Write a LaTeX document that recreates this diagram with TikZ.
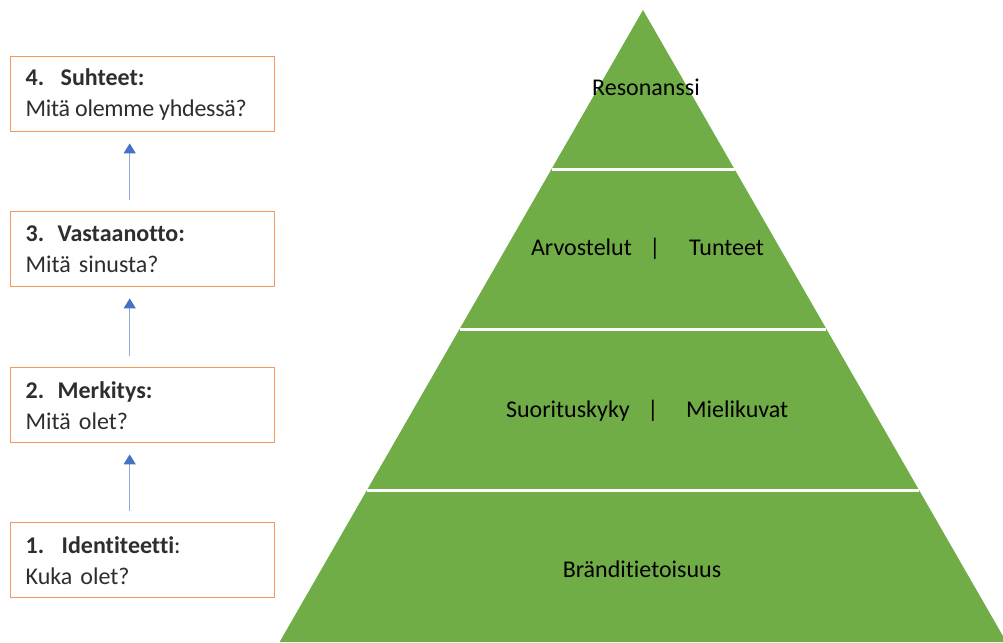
\documentclass[tikz,border=0pt]{standalone}
\usepackage{fontspec}
\setmainfont{Carlito}[Ligatures=NoCommon]
\usetikzlibrary{arrows.meta}
\definecolor{pyrgreen}{HTML}{70AD47}
\definecolor{boxorange}{HTML}{F29A5C}
\definecolor{arrblue}{HTML}{4472C4}
\definecolor{arrline}{HTML}{8EA9DB}
\definecolor{boxtext}{HTML}{2E2E2E}
\tikzset{
  stagebox/.style={draw=boxorange, line width=1.4pt, fill=white,
    minimum width=264pt, minimum height=75pt, inner xsep=14pt, inner ysep=0pt,
    text width=234pt, align=left, text=boxtext,
    font=\fontsize{24}{31}\selectfont, anchor=north west},
  uparrow/.style={draw=arrline, line width=1.3pt,
    -{Triangle[width=12pt,length=10pt,color=arrblue]},
    shorten <=11pt, shorten >=11pt},
  level/.style={inner sep=0pt, text=black, font=\fontsize{24}{29}\selectfont},
  divider/.style={draw=white, line width=3pt}
}
\newcommand{\stagenum}[2]{\makebox[#1][l]{#2}}
\newcommand{\tightline}[1]{{\addfontfeature{LetterSpace=-1.1}#1}}
\newcommand{\gap}{\hspace{5pt}}
\begin{document}
\begin{tikzpicture}[x=1pt,y=-1pt]
\useasboundingbox (0,0) rectangle (1003,642);

% pyramid body
\coordinate (apex) at (643,10);
\coordinate (bl) at (279.6,642);
\coordinate (br) at (1006.4,642);
\begin{scope}
  \clip (0,0) rectangle (1003,642);
  \fill[pyrgreen] (apex) -- (br) -- (bl) -- cycle;
\end{scope}
% white separators between levels (x = 643 -/+ 0.575*(y-10))
\draw[divider] (551.5,169) -- (734.5,169);
\draw[divider] (459.6,329) -- (826.4,329);
\draw[divider] (367.1,490) -- (918.9,490);

% level labels
\node[level, anchor=base] (res) at (646,95) {Resonanssi};
\node[level, anchor=base east] (arv) at (632,255) {Arvostelut};
\node[level, anchor=base] (sep1) at (655,255) {|};
\node[level, anchor=base west] (tun) at (689,255) {Tunteet};
\node[level, anchor=base east] (suo) at (630,417) {Suorituskyky};
\node[level, anchor=base] (sep2) at (653,417) {|};
\node[level, anchor=base west] (mie) at (686,417) {Mielikuvat};
\node[level, anchor=base] (bra) at (642,577) {Bränditietoisuus};

% stage boxes
\node[stagebox] (b4) at (10,56)
  {{\bfseries\stagenum{35pt}{4.}Suhteet:}\\\tightline{Mitä\gap olemme\gap yhdessä?}};
\node[stagebox] (b3) at (10,211)
  {{\bfseries\stagenum{32pt}{3.}Vastaanotto:}\\Mitä sinusta?};
\node[stagebox] (b2) at (10,367)
  {{\bfseries\stagenum{32pt}{2.}Merkitys:}\\Mitä olet?};
\node[stagebox] (b1) at (10,522)
  {{\bfseries\stagenum{36pt}{1.}Identiteetti}:\\Kuka olet?};

% progression arrows
\draw[uparrow] ([xshift=-13pt]b1.north) -- ([xshift=-13pt]b2.south);
\draw[uparrow] ([xshift=-13pt]b2.north) -- ([xshift=-13pt]b3.south);
\draw[uparrow] ([xshift=-13pt]b3.north) -- ([xshift=-13pt]b4.south);
\end{tikzpicture}
\end{document}
